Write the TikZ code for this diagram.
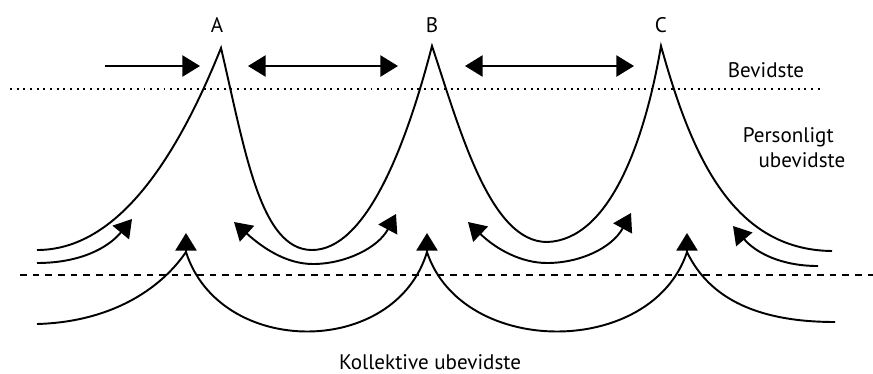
\documentclass[tikz,border=0pt]{standalone}
\usepackage{fontspec}
\setmainfont{PT Sans}
\usetikzlibrary{arrows.meta}

\begin{document}
\begin{tikzpicture}[x=0.02cm,y=-0.02cm,
  curve/.style={line width=1.1pt,black},
  flow/.style={curve,-{Triangle[length=10pt,width=12pt]}},
  twoway/.style={curve,{Triangle[length=10pt,width=12pt]}-{Triangle[length=10pt,width=12pt]}},
  layer/.style={font=\fontsize{12}{14.4}\selectfont,align=left,inner sep=0pt},
  peaklabel/.style={font=\fontsize{12}{14.4}\selectfont,inner sep=0pt}
]
\useasboundingbox (0,0) rectangle (873,373);

% peaks
\coordinate (pA) at (221,48);
\coordinate (pB) at (432,46);
\coordinate (pC) at (661,46);
\node[peaklabel] (A) at (217,25) {A};
\node[peaklabel] (B) at (432,25) {B};
\node[peaklabel] (C) at (661,25) {C};

% layers
\node[layer] (bev) at (766,70) {Bevidste};
\node[layer] (pers) at (794,148) {Personligt\\\hspace*{9pt}ubevidste};
\node[layer] (koll) at (430,362) {Kollektive ubevidste};
\draw[curve,dash pattern=on 1.1pt off 2.7pt] (10,89) -- (822,89);
\draw[curve,dash pattern=on 3.8pt off 3.4pt] (20,275) -- (873,275);

% arrows in the conscious layer
\coordinate (h0) at (105,66);
\coordinate (h1) at (200,66);
\coordinate (h2) at (248,66);
\coordinate (h3) at (398,66);
\coordinate (h4) at (465,66);
\coordinate (h5) at (634,66);
\draw[flow] (h0) -- (h1);
\draw[twoway] (h2) -- (h3);
\draw[twoway] (h4) -- (h5);

% personal unconscious
\draw[curve] (37,250) .. controls (110,250) and (170,175) .. (pA)
  .. controls (245,150) and (260,250) .. (312,250)
  .. controls (365,250) and (405,150) .. (pB)
  .. controls (460,130) and (490,242) .. (547,242)
  .. controls (610,240) and (645,140) .. (pC)
  .. controls (690,150) and (730,250) .. (832,251);
\draw[flow] (37,263) .. controls (80,263) and (108,248) .. (132,219);
\draw[twoway] (234,222) .. controls (265,250) and (288,264) .. (313,264)
  .. controls (345,264) and (378,248) .. (396,214);
\draw[twoway] (468,222) .. controls (497,250) and (522,263) .. (547,263)
  .. controls (580,263) and (612,248) .. (631,213);
\draw[flow] (818,266) .. controls (780,266) and (755,252) .. (733,226);

% collective unconscious
\coordinate (jA) at (186,252);
\coordinate (jB) at (427,252);
\coordinate (jC) at (687,252);
\draw[curve] (37,324) .. controls (110,322) and (160,290) .. (jA)
  .. controls (220,358) and (395,358) .. (jB)
  .. controls (462,358) and (652,358) .. (jC)
  .. controls (710,300) and (760,322) .. (835,322);
\foreach \j in {jA,jB,jC}
  \draw[flow] (\j) -- ++(0,-19);

\end{tikzpicture}
\end{document}
